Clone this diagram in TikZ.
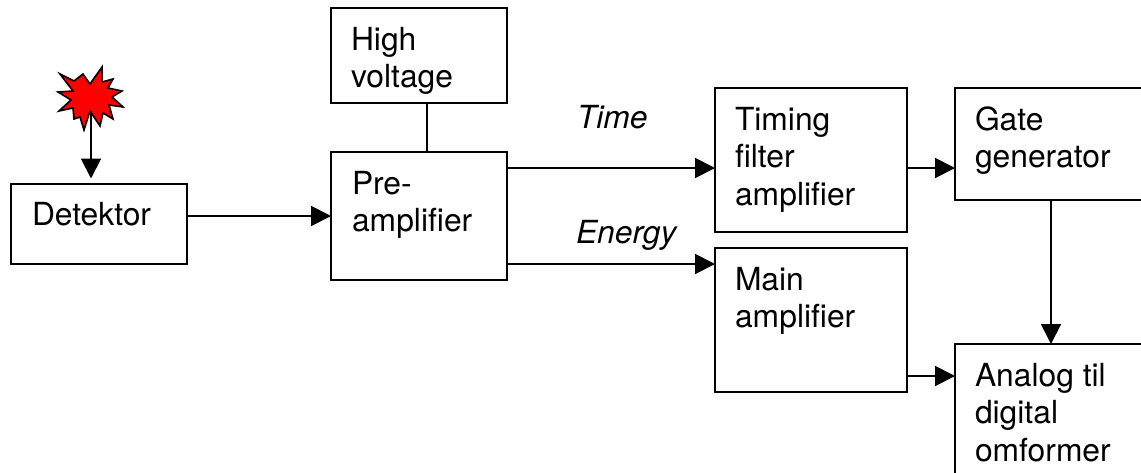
\documentclass[tikz,border=0pt]{standalone}
\usepackage{fontspec}
\setmainfont{TeX Gyre Heros}
\usetikzlibrary{arrows.meta}
\newcommand\inb[5]{\vbox to #2pt{\offinterlineskip\def\lw{#1pt}\def\lp{#3pt}\kern #4pt #5\vss}}
\newcommand\tline[1]{\hbox to\lw{\kern\lp\smash{#1}\hss}\kern 37.7pt }
\tikzset{
  x=1pt,y=-1pt,
  blockbox/.style={draw=black,line width=2pt,inner sep=0pt,outer sep=0pt,font=\fontsize{31.8}{37}\selectfont},
  tag/.style={inner sep=0pt,outer sep=0pt,anchor=base west,font=\fontsize{31.8}{37}\selectfont\itshape},
  link/.style={draw=black,line width=2pt},
  flow/.style={link,-{Triangle[length=20pt,width=20pt]}},
}
\begin{document}
\begin{tikzpicture}
\useasboundingbox (0,0) rectangle (1141,472);
\clip (0,0) rectangle (1141,472);
\fill[white] (0,0) rectangle (1141,472);
\node[blockbox] (det) at (99,224) {\inb{176}{80}{21}{41}{\tline{Detektor}}};
\node[blockbox] (hv) at (419,55.5) {\inb{176}{95}{20}{42}{\tline{High}\tline{voltage}}};
\node[blockbox] (pre) at (419,216) {\inb{176}{128}{21}{42}{\tline{Pre-}\tline{amplifier}}};
\node[blockbox] (tfa) at (811,160) {\inb{192}{144}{20}{42}{\tline{Timing}\tline{filter}\tline{amplifier}}};
\node[blockbox] (gate) at (1051,144) {\inb{192}{112}{20}{42}{\tline{Gate}\tline{generator}}};
\node[blockbox] (main) at (811,320) {\inb{192}{144}{20}{42}{\tline{Main}\tline{amplifier}}};
\node[blockbox] (adc) at (1051,416) {\inb{192}{144}{20}{42}{\tline{Analog til}\tline{digital}\tline{omformer}}};
\node[tag] (time) at (577,128) {Time};
\node[tag] (energy) at (576,243) {Energy};
\coordinate (burst) at (91,111);
\coordinate (hvO) at (427,103);
\coordinate (preT) at (pre.east |- 0,168);
\coordinate (preE) at (pre.east |- 0,264);
\coordinate (tfaO) at (tfa.east |- 0,168);
\coordinate (mainO) at (main.east |- 0,376);
\fill[red,draw=black,line width=1.6pt,line join=miter,miter limit=10]
  (60,74)--(74,81)--(83,74)--(90,84)--(102,67)--(102,82)--(113,79)--(108,88)--(122,91)--(112,97)--(123,107)--(109,105)--(113,119)--(103,113)--(100,126)--(90,111)--(84,130)--(80,117)--(74,119)--(73,108)--(59,111)--(71,100)--(58,92)--(73,91)--cycle;
\draw[flow,shorten >=5.5pt] (burst) -- (burst |- det.north);
\draw[flow] (det.east |- pre.west) -- (pre.west);
\draw[link] (hvO) -- (hvO |- pre.north);
\draw[flow] (preT) -- (tfa.west |- preT);
\draw[flow] (preE) -- (main.west |- preE);
\draw[flow] (tfaO) -- (gate.west |- tfaO);
\draw[flow] (mainO) -- (adc.west |- mainO);
\draw[flow] (gate.south) -- (adc.north);
\end{tikzpicture}
\end{document}
